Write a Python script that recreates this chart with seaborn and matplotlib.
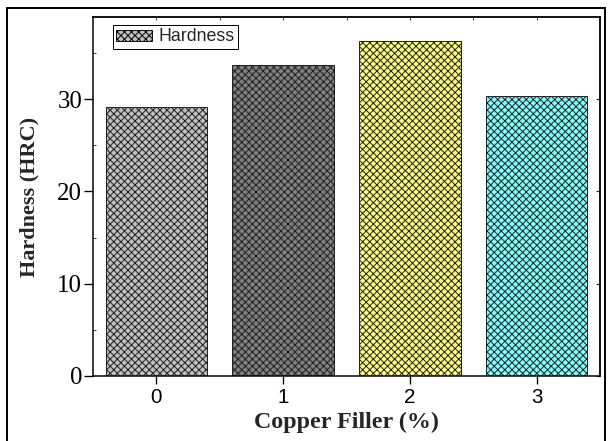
import matplotlib
matplotlib.use("Agg")
import matplotlib.pyplot as plt
from matplotlib.patches import Patch, Rectangle
from matplotlib.ticker import MultipleLocator
import seaborn as sns
import pandas as pd

# ---- data ----
categories = ["0", "1", "2", "3"]
hardness = [29.1, 33.7, 36.3, 30.3]
bar_colors = ["#C0C0C0", "#808080", "#FFFF80", "#80FFFF"]
legend_label = "Hardness"
x_label = "Copper Filler (%)"
y_label = "Hardness (HRC)"

df = pd.DataFrame({"filler": categories, "hardness": hardness})

sns.set_style("ticks")
plt.rcParams["hatch.linewidth"] = 1.1
plt.rcParams["font.family"] = ["Liberation Serif", "DejaVu Sans"]

DPI = 64
fig = plt.figure(figsize=(608 / DPI, 441 / DPI), dpi=DPI)
ax = fig.add_axes([93 / 608, 1 - 376 / 441, (600 - 93) / 608, (376 - 17) / 441])

sns.barplot(data=df, x="filler", y="hardness", hue="filler",
            palette=bar_colors, legend=False, width=0.8,
            edgecolor="#202020", linewidth=1.1, saturation=1, ax=ax)
for p in ax.patches:
    p.set_hatch("xxx")

ax.set_xlim(-0.5, 3.5)
ax.set_ylim(0, 38.9)
ax.set_yticks([0, 10, 20, 30])
ax.yaxis.set_minor_locator(MultipleLocator(5))

for s in ax.spines.values():
    s.set_visible(True)
    s.set_linewidth(1.7)
    s.set_color("black")

ax.tick_params(axis="y", which="major", direction="out", length=10, width=1.5,
               pad=2, labelsize=28, colors="black", right=False)
ax.tick_params(axis="y", which="minor", direction="in", length=3, width=1.0,
               left=True, right=False)
ax.tick_params(axis="x", which="major", direction="out", length=9, width=1.5,
               pad=5, labelsize=23, colors="black")
for lab in ax.get_xticklabels():
    lab.set_family(["Liberation Sans", "DejaVu Sans"])
for lab in ax.get_yticklabels():
    lab.set_family(["Liberation Serif", "DejaVu Serif"])

# top ticks every 0.5, pointing in
top = ax.secondary_xaxis("top")
top.set_xticks([0, 0.5, 1, 1.5, 2, 2.5, 3])
top.tick_params(direction="in", length=3, width=1.0, labeltop=False)
top.spines["top"].set_linewidth(1.7)
# right ticks in
right = ax.secondary_yaxis("right")
right.set_yticks([0, 10, 20, 30])
right.tick_params(direction="in", length=5, width=1.3, labelright=False)
right.spines["right"].set_linewidth(1.7)

ax.set_xlabel(x_label, fontsize=27, fontweight="bold",
              family=["Liberation Serif", "DejaVu Serif"], labelpad=5)
ax.set_ylabel(y_label, fontsize=25, fontweight="bold",
              family=["Liberation Serif", "DejaVu Serif"], labelpad=20)

handle = Patch(facecolor=bar_colors[0], edgecolor="black", hatch="xxx", linewidth=1)
leg = ax.legend([handle], [legend_label], loc="upper left",
                bbox_to_anchor=(0.039, 0.978), borderaxespad=0,
                fancybox=False, framealpha=1, edgecolor="black",
                prop={"family": ["Liberation Sans", "DejaVu Sans"], "size": 20},
                handlelength=2.0, handleheight=0.6, handletextpad=0.35,
                borderpad=0.2)
leg.get_frame().set_linewidth(1.1)

# outer border of the figure image
fig.add_artist(Rectangle((7 / 608, -0.1), (605 - 7) / 608, 1.1 - 8 / 441,
                         transform=fig.transFigure, fill=False,
                         edgecolor="black", linewidth=2.2, clip_on=False))

fig.savefig("out.png", dpi=DPI)
